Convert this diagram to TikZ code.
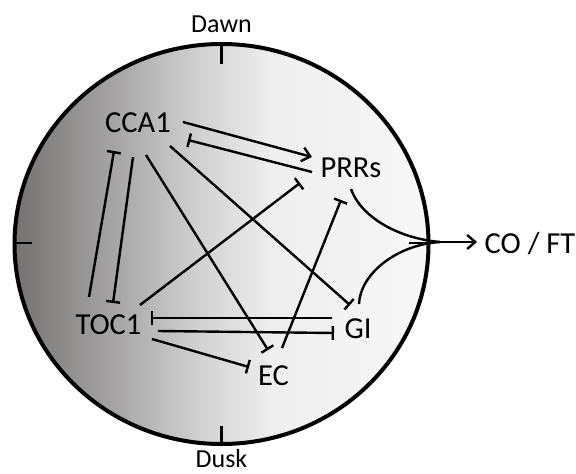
\documentclass[tikz,border=0pt]{standalone}
\usepackage{fontspec}
\setmainfont{Carlito}
\usetikzlibrary{arrows.meta,calc}

% day/night shading of the clock face, dark (night) on the left
\definecolor{shA}{RGB}{118,114,114}
\definecolor{shB}{RGB}{160,158,158}
\definecolor{shC}{RGB}{210,210,210}
\definecolor{shD}{RGB}{238,238,238}
\definecolor{shE}{RGB}{248,248,248}
\pgfdeclarehorizontalshading{dayshade}{100bp}{%
  color(0bp)=(shA); color(25bp)=(shA); color(35.5bp)=(shB);
  color(47.5bp)=(shC); color(56bp)=(shD); color(75bp)=(shE); color(100bp)=(shE)}

\begin{document}
\begin{tikzpicture}[x=1pt,y=-1pt,
  gene/.style={font=\fontsize{30.5}{36}\selectfont, inner sep=0pt, anchor=base},
  timelbl/.style={font=\fontsize{26}{31}\selectfont, inner sep=0pt, anchor=base},
  inh/.style={line width=2.4pt, -{Bar[width=14pt]}},
  act/.style={line width=2.4pt, -{Straight Barb[length=8pt,width=14pt]}},
  tick/.style={line width=2.6pt},
  face/.style={line width=4pt}]
\useasboundingbox (0,0) rectangle (576,474);

% clock face
\shade[shading=dayshade] (221.5,244) ellipse [x radius=207pt, y radius=200pt];
\draw[face] (221.5,244) ellipse [x radius=207pt, y radius=200pt];
\draw[tick] (221.5,44) -- (221.5,64);
\draw[tick] (221.5,444) -- (221.5,426);
\draw[tick] (14.5,243) -- (32,243);
\draw[tick] (428.5,243) -- (409,243);

\node[timelbl] (dawn) at (221.5,32) {Dawn};
\node[timelbl] (dusk) at (221.5,467.5) {Dusk};

% genes
\node[gene] (CCA1) at (138,132) {CCA1};
\node[gene] (PRR)  at (351,177) {PRRs};
\node[gene] (TOC1) at (108.5,334) {TOC1};
\node[gene] (GI)   at (358,338) {GI};
\node[gene] (EC)   at (273.5,385) {EC};
\node[gene] (COFT) at (530,253) {CO / FT};

% regulatory links
\draw[act] ($(CCA1.base)+(45,-10)$) -- ($(PRR.base)+(-39,-20)$);
\draw[inh] ($(PRR.base)+(-39,-5)$) -- ($(CCA1.base)+(50,8)$);
\draw[inh] ($(TOC1.base)+(-19.5,-37)$) -- ($(CCA1.base)+(-24,19)$);
\draw[inh] ($(CCA1.base)+(-5,25)$) -- ($(TOC1.base)+(4.5,-31)$);
\draw[inh] ($(CCA1.base)+(8,23)$) -- ($(EC.base)+(-5.5,-35)$);
\draw[inh] ($(CCA1.base)+(32,14)$) -- ($(GI.base)+(-8,-33)$);
\draw[inh] ($(TOC1.base)+(31.5,-29)$) -- ($(PRR.base)+(-51,6)$);
\draw[inh] ($(EC.base)+(8.5,-37)$) -- ($(PRR.base)+(-10,23)$);
\draw[inh] ($(GI.base)+(-26,-20)$) -- ($(TOC1.base)+(42.5,-16)$);
\draw[inh] ($(TOC1.base)+(49.5,-3)$) -- ($(GI.base)+(-24,-5)$);
\draw[inh] ($(TOC1.base)+(43.5,5)$) -- ($(EC.base)+(-24.5,-18)$);

% output to flowering
\coordinate (merge) at (440,242);
\draw[line width=2.4pt] ($(PRR.base)+(0,12)$) .. controls (360,215) and (395,238) .. (merge);
\draw[line width=2.4pt] ($(GI.base)+(1,-34)$) .. controls (360,275) and (395,245) .. (merge);
\draw[act] (merge) -- ($(COFT.base)+(-53,-11)$);
\end{tikzpicture}
\end{document}
